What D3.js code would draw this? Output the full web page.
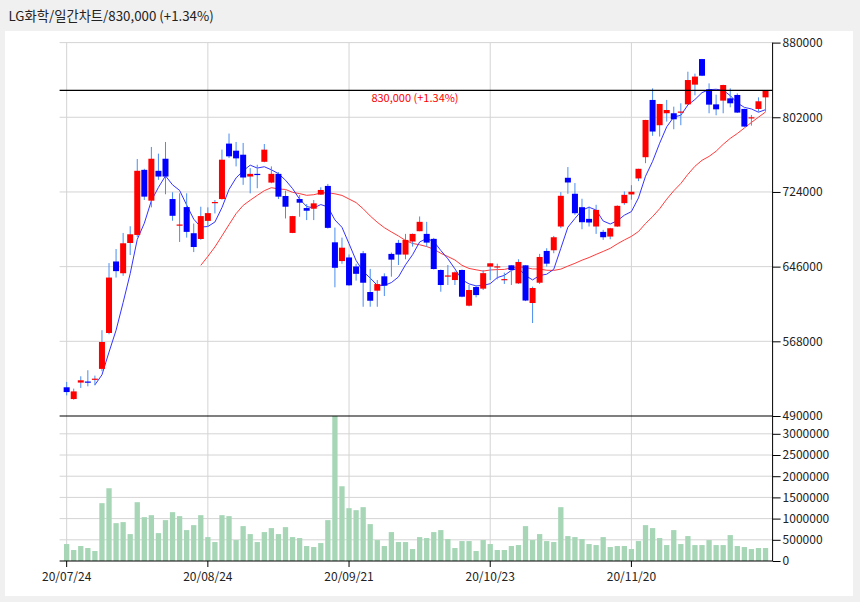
<!DOCTYPE html>
<html>
<head>
<meta charset="utf-8">
<script src="https://cdn.jsdelivr.net/npm/d3@7"></script>
<style>
  body { margin: 0; background: #f0f0f0; font-family: "Noto Sans CJK KR", "Noto Sans", sans-serif; }
  .grid line { stroke: #d4d4d4; }
  .axis text { font-size: 12px; fill: #222; font-family: "Noto Sans CJK KR", "Noto Sans", sans-serif; }
</style>
</head>
<body>
<svg width="860" height="602"></svg>
<script>
const dates = [
  '20/07/24','20/07/27','20/07/28','20/07/29','20/07/30','20/07/31',
  '20/08/03','20/08/04','20/08/05','20/08/06','20/08/07',
  '20/08/10','20/08/11','20/08/12','20/08/13','20/08/14',
  '20/08/18','20/08/19','20/08/20','20/08/21',
  '20/08/24','20/08/25','20/08/26','20/08/27','20/08/28',
  '20/08/31','20/09/01','20/09/02','20/09/03','20/09/04',
  '20/09/07','20/09/08','20/09/09','20/09/10','20/09/11',
  '20/09/14','20/09/15','20/09/16','20/09/17','20/09/18',
  '20/09/21','20/09/22','20/09/23','20/09/24','20/09/25',
  '20/09/28','20/09/29',
  '20/10/05','20/10/06','20/10/07','20/10/08',
  '20/10/12','20/10/13','20/10/14','20/10/15','20/10/16',
  '20/10/19','20/10/20','20/10/21','20/10/22','20/10/23',
  '20/10/26','20/10/27','20/10/28','20/10/29','20/10/30',
  '20/11/02','20/11/03','20/11/04','20/11/05','20/11/06',
  '20/11/09','20/11/10','20/11/11','20/11/12','20/11/13',
  '20/11/16','20/11/17','20/11/18','20/11/19','20/11/20',
  '20/11/23','20/11/24','20/11/25','20/11/26','20/11/27',
  '20/11/30','20/12/01','20/12/02','20/12/03','20/12/04',
  '20/12/07','20/12/08','20/12/09','20/12/10','20/12/11',
  '20/12/14','20/12/15','20/12/16','20/12/17'
];

const open = [
  520000,507700,524900,526000,529000,539200,576700,651400,639100,670700,
  679100,747100,714900,746100,758700,716600,690000,708200,680900,674900,
  693800,713500,716600,774500,767100,762900,740100,742900,755500,733800,
  742900,719800,681200,716600,707200,706500,721200,730300,671400,651800,
  655600,646200,660000,619500,620900,635900,659300,670800,658600,672200,
  683000,680200,675000,642500,636800,632000,642500,605200,624700,623000,
  646000,646300,633000,647400,628500,647400,608000,629200,662400,663100,
  687900,738800,722100,708100,695900,687900,682300,677400,687900,712300,
  721400,738100,760300,820100,793700,806200,806200,808000,815500,836100,
  862800,831200,815500,819400,821800,825300,810700,802000,810700,822800
];
const close = [
  515000,515700,527300,525700,529000,567300,634600,641300,670400,679800,
  746100,719100,758700,740100,740100,699100,690000,682300,666500,698800,
  701900,713500,757700,761200,759100,739100,742900,742500,768200,742900,
  719100,708600,698800,712800,704400,712100,726100,686500,644800,665800,
  626500,638500,629200,610400,627800,626100,653300,658600,673900,680200,
  692800,671100,643500,626800,636800,640100,614600,621600,616300,639200,
  649500,646300,633000,642500,650900,610600,623700,656100,649100,676700,
  720000,733900,701800,692400,692100,705300,676700,686100,709500,721000,
  724200,748200,799200,787100,815900,809600,799900,808000,840900,844500,
  845400,815200,810300,835700,816600,806900,792300,802000,818700,830000
];
const high = [
  525600,518600,531500,537800,532200,579600,649700,664400,681200,688200,
  758400,748200,771000,764000,776200,723700,722600,722600,691000,708600,
  707900,715600,768200,785000,776200,775200,748900,752400,774100,750700,
  744700,725400,699000,720800,711400,715600,728900,732400,686800,676300,
  658800,649000,662400,643600,632000,639000,660700,673900,680200,680500,
  698400,692800,676000,643000,647700,641000,643000,626800,626800,642500,
  649500,649100,639700,647500,653700,647500,625100,659300,665200,678100,
  723800,750000,733300,716900,708800,710600,684400,686500,710000,724500,
  731100,748200,799300,832200,816000,820100,813100,816600,849600,847600,
  863000,837400,825600,836000,832200,827000,811000,804400,822800,830000
];
const low = [
  511500,507000,519300,521000,522000,536800,575400,634600,636400,658100,
  677000,715600,707900,736600,721600,693900,671800,676300,661200,674000,
  687500,701600,716000,759400,750700,731400,722600,727900,755000,733100,
  716600,696300,681000,698100,694600,694600,721000,685800,624400,649000,
  626000,631400,604100,604100,604100,615300,635500,647700,653700,666900,
  683000,666900,643000,619800,626800,626800,614000,604500,613900,621600,
  632000,632700,627900,626800,628000,610000,587100,627900,646000,660000,
  686200,722100,700100,685100,687900,680200,673900,674600,687500,710600,
  715900,735300,754100,782600,781900,797500,789500,793700,815000,825000,
  845000,806200,804100,806200,812400,806500,792000,793300,807900,807900
];
const volume = [
  400000,259000,353000,306000,235000,1364000,1716000,893000,917000,635000,
  1387000,1034000,1081000,658000,964000,1152000,1058000,729000,846000,1081000,
  564000,447000,1081000,1058000,494000,823000,635000,447000,682000,776000,
  635000,799000,564000,541000,353000,329000,423000,964000,3420000,1763000,
  1246000,1199000,1270000,870000,494000,353000,682000,447000,447000,282000,
  564000,541000,682000,729000,517000,306000,470000,470000,235000,494000,
  400000,259000,259000,353000,376000,823000,494000,635000,470000,447000,
  1270000,588000,564000,517000,400000,376000,564000,329000,353000,353000,
  282000,470000,846000,776000,541000,376000,729000,400000,588000,376000,
  376000,494000,376000,376000,611000,353000,329000,282000,306000,306000
];

const tickDates = ['20/07/24','20/08/24','20/09/21','20/10/23','20/11/20'];
const priceTicks = [490000,568000,646000,724000,802000,880000];
const volumeTicks = [0,500000,1000000,1500000,2000000,2500000,3000000];
const lastPrice = 830000;
const title = 'LG화학/일간차트/830,000 (+1.34%)';
const lastLabel = '830,000 (+1.34%)';

const rows = dates.map((d, i) => ({
  date: d, open: open[i], high: high[i], low: low[i], close: close[i], volume: volume[i]
}));

const movingAvg = (n) => rows.map((d, i) => i < n - 1 ? null :
  d3.mean(close.slice(i - n + 1, i + 1)));
const ma5 = movingAvg(5);
const ma20 = movingAvg(20);

const svg = d3.select('svg');
const left = 59.6, right = 772.6;
const priceTop = 42.6, priceBottom = 416, volBottom = 561;

svg.append('rect').attr('x', 5).attr('y', 31).attr('width', 848).attr('height', 565).attr('fill', '#fff');
svg.append('text').attr('x', 8.5).attr('y', 21).attr('font-size', 13.3).attr('fill', '#222')
  .text(title);

const x = d3.scaleBand().domain(dates).range([left, right]).paddingInner(0.25).paddingOuter(0.625);
const cx = d => x(d) + x.bandwidth() / 2;
const y = d3.scaleLinear().domain([490000, 880000]).range([priceBottom, priceTop]);
const yv = d3.scaleLinear().domain([0, d3.max(volume)]).range([volBottom, priceBottom]);

// grid
const grid = svg.append('g').attr('class', 'grid');
grid.selectAll('.hp').data(priceTicks.slice(1)).enter().append('line')
  .attr('x1', left).attr('x2', right).attr('y1', y).attr('y2', y);
grid.selectAll('.hv').data(volumeTicks.slice(1)).enter().append('line')
  .attr('x1', left).attr('x2', right).attr('y1', yv).attr('y2', yv);
grid.selectAll('.vx').data(tickDates).enter().append('line')
  .attr('x1', cx).attr('x2', cx).attr('y1', priceTop).attr('y2', volBottom);

// volume bars
svg.append('g').selectAll('rect').data(rows).enter().append('rect')
  .attr('x', d => x(d.date))
  .attr('width', x.bandwidth())
  .attr('y', d => yv(d.volume))
  .attr('height', d => volBottom - yv(d.volume))
  .attr('fill', '#a6d6b6');

// moving averages
const line = d3.line().defined(d => d[1] != null).x(d => cx(d[0])).y(d => y(d[1]));
svg.append('path').attr('d', line(dates.map((d, i) => [d, ma20[i]])))
  .attr('fill', 'none').attr('stroke', '#ff3b3b').attr('stroke-width', 1);
svg.append('path').attr('d', line(dates.map((d, i) => [d, ma5[i]])))
  .attr('fill', 'none').attr('stroke', '#3434ff').attr('stroke-width', 1);

// candles
const candle = svg.append('g').selectAll('g').data(rows).enter().append('g');
candle.append('line')
  .attr('x1', d => cx(d.date)).attr('x2', d => cx(d.date))
  .attr('y1', d => y(d.high)).attr('y2', d => y(d.low))
  .attr('stroke', '#4a8cf0').attr('stroke-width', 1);
candle.append('rect')
  .attr('x', d => cx(d.date) - 3)
  .attr('width', 6)
  .attr('y', d => y(Math.max(d.open, d.close)))
  .attr('height', d => Math.max(1.2, Math.abs(y(d.open) - y(d.close))))
  .attr('fill', d => d.close >= d.open ? '#ff0000' : '#0000ff');

// last price line
svg.append('line').attr('x1', left).attr('x2', right)
  .attr('y1', y(lastPrice)).attr('y2', y(lastPrice))
  .attr('stroke', '#000').attr('stroke-width', 1.2);
svg.append('text').attr('x', 415).attr('y', y(lastPrice) + 12)
  .attr('text-anchor', 'middle').attr('font-size', 11).attr('fill', '#ff0000')
  .text(lastLabel);

// panel separators
svg.append('line').attr('x1', left).attr('x2', right).attr('y1', priceBottom).attr('y2', priceBottom)
  .attr('stroke', '#000').attr('stroke-width', 1.2);

// axes
const priceAxis = svg.append('g').attr('class', 'axis')
  .attr('transform', `translate(${right},0)`)
  .call(d3.axisRight(y).tickValues(priceTicks).tickFormat(d3.format('d')).tickSize(8).tickPadding(2));
priceAxis.select('.domain').attr('d', `M0,${priceTop}V${priceBottom}`);

const volAxis = svg.append('g').attr('class', 'axis')
  .attr('transform', `translate(${right},0)`)
  .call(d3.axisRight(yv).tickValues(volumeTicks).tickFormat(d3.format('d')).tickSize(8).tickPadding(2));
volAxis.select('.domain').attr('d', `M0,${priceBottom}V${volBottom}`);

const xAxis = svg.append('g').attr('class', 'axis')
  .attr('transform', `translate(0,${volBottom})`)
  .call(d3.axisBottom(x).tickValues(tickDates).tickSize(6).tickPadding(4).tickSizeOuter(0));
xAxis.select('.domain').attr('d', `M${left},0H${right}`);
xAxis.selectAll('text').attr('dy', '0.85em');
</script>
</body>
</html>
